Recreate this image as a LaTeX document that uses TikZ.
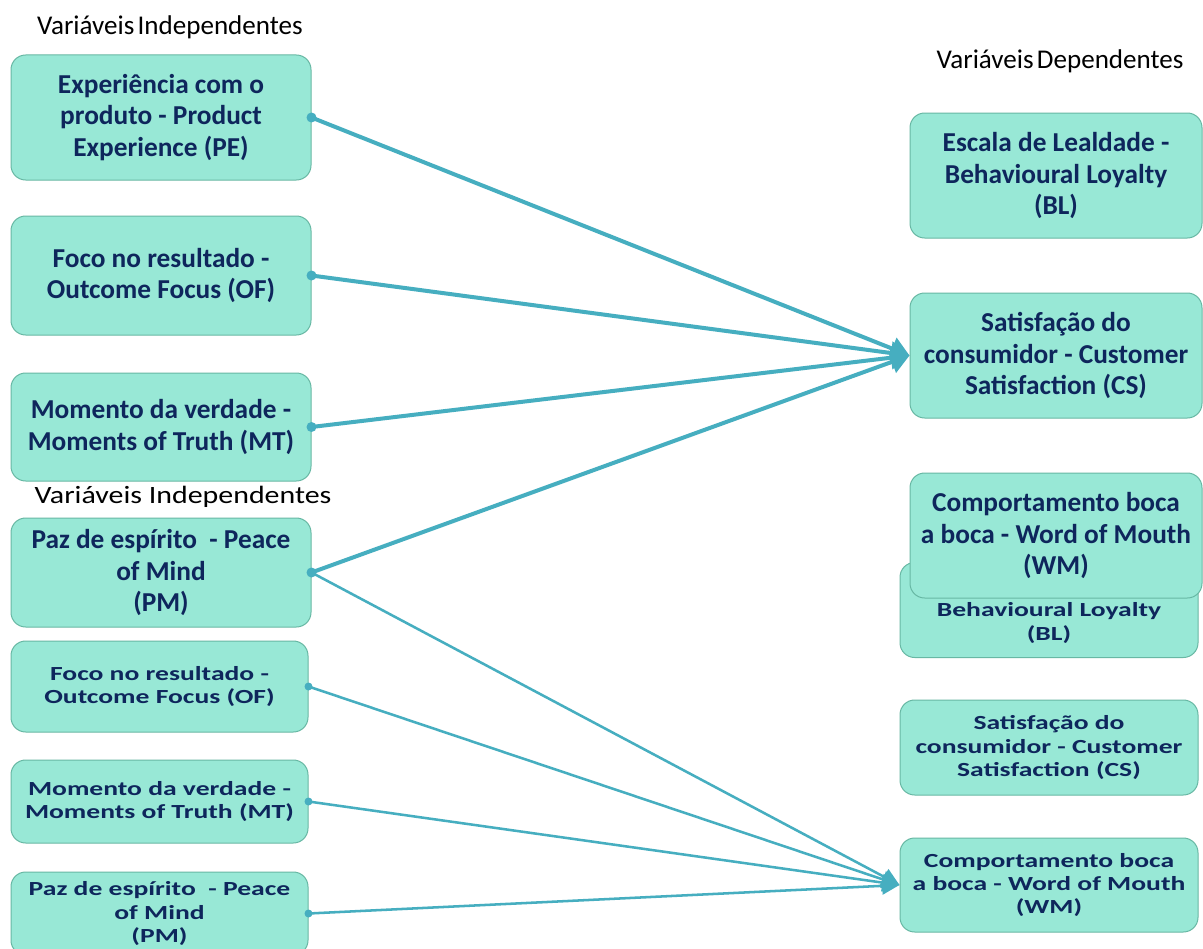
\documentclass[tikz,border=0pt]{standalone}
\usepackage{fontspec}
\setmainfont{Carlito}
\newfontfamily\widefont[FakeStretch=1.38]{Carlito}
\newfontfamily\labelfont[FakeStretch=1.2]{Carlito}
\newcommand\tightspace{\spaceskip=0.12em\relax}
\usetikzlibrary{arrows.meta}
\definecolor{boxfill}{RGB}{152,232,214}
\definecolor{boxline}{RGB}{104,184,164}
\definecolor{boxtext}{RGB}{14,38,92}
\definecolor{arrowcol}{RGB}{70,174,192}
\tikzset{every picture/.style={line width=0.75pt}}
\tikzset{
  varbox/.style={draw=boxline, fill=boxfill, rounded corners=11pt, text=boxtext,
    align=center, inner sep=0pt, font=\fontsize{20.5}{23.6}\selectfont\bfseries},
  smallbox/.style={varbox, font=\widefont\fontsize{15}{17.6}\selectfont\bfseries},
  heading/.style={inner sep=0pt, font=\fontsize{20.3}{24}\selectfont\tightspace},
  bigarrow/.style={draw=arrowcol, line width=3pt, -{Triangle[length=14pt,width=17pt]}},
  thinarrow/.style={draw=arrowcol, line width=1.9pt, -{Triangle[length=13pt,width=13pt]}},
  dot/.style={fill=arrowcol}
}
\begin{document}
\begin{tikzpicture}[x=0.75pt,y=0.75pt,yscale=-1,xscale=1]
  \clip (0,0) rectangle (1203,949);
  \fill[white] (0,0) rectangle (1203,949);

  % Text Node
  \node[heading] (indep) at (170,27) {Variáveis Independentes};
  \node[heading] (dep) at (1060,61) {Variáveis Dependentes};
  \node[heading, font=\labelfont\fontsize{18.7}{22}\selectfont] (indeptwo) at (183,497) {Variáveis Independentes};

  %Shape: Rounded Rect, independent (top)
  \node[varbox, minimum width=225pt, minimum height=93.75pt] (PE) at (161,117.5) {Experiência com o\\produto - Product\\Experience (PE)};
  \node[varbox, minimum width=225pt, minimum height=89.25pt] (OF) at (161,275.5) {Foco no resultado -\\Outcome Focus (OF)};
  \node[varbox, minimum width=225pt, minimum height=81pt] (MT) at (161,427) {Momento da verdade -\\Moments of Truth (MT)};
  \node[varbox, minimum width=225pt, minimum height=81.75pt] (PM) at (161,572.5) {Paz de espírito~ - Peace\\of Mind\\(PM)};

  %Shape: Rounded Rect, independent (bottom)
  \node[smallbox, minimum width=222.75pt, minimum height=68.25pt] (OFtwo) at (159.5,686.5) {Foco no resultado -\\Outcome Focus (OF)};
  \node[smallbox, minimum width=222.75pt, minimum height=62.25pt] (MTtwo) at (159.5,801.5) {Momento da verdade -\\Moments of Truth (MT)};
  \node[smallbox, minimum width=222.75pt, minimum height=62.25pt] (PMtwo) at (159.5,913.5) {Paz de espírito~ - Peace\\of Mind\\(PM)};

  %Shape: Rounded Rect, dependent
  \node[varbox, minimum width=219pt, minimum height=93.75pt] (BL) at (1056,175.5) {Escala de Lealdade -\\Behavioural Loyalty\\(BL)};
  \node[varbox, minimum width=219pt, minimum height=93.75pt] (CS) at (1056,355.5) {Satisfação do\\consumidor - Customer\\Satisfaction (CS)};
  \node[smallbox, minimum width=223.5pt, minimum height=71.25pt] (BLtwo) at (1049,610) {\strut\\Behavioural Loyalty\\(BL)};
  \node[varbox, minimum width=219pt, minimum height=93.75pt] (WM) at (1056,535.5) {Comportamento boca\\a boca - Word of Mouth\\(WM)};
  \node[smallbox, minimum width=223.5pt, minimum height=71.25pt] (CStwo) at (1049,747.5) {Satisfação do\\consumidor - Customer\\Satisfaction (CS)};
  \node[smallbox, minimum width=223.5pt, minimum height=70.5pt] (WMtwo) at (1049,885) {Comportamento boca\\a boca - Word of Mouth\\(WM)};

  %Straight Lines
  \foreach \src in {PE,OF,MT,PM} {
    \draw[bigarrow] (\src.east) -- (CS.west);
    \fill[dot] (\src.east) circle[radius=3.75pt];
  }
  \foreach \src in {PM,OFtwo,MTtwo,PMtwo} {
    \draw[thinarrow] (\src.east) -- (WMtwo.west);
    \fill[dot] (\src.east) circle[radius=3pt];
  }
\end{tikzpicture}
\end{document}
